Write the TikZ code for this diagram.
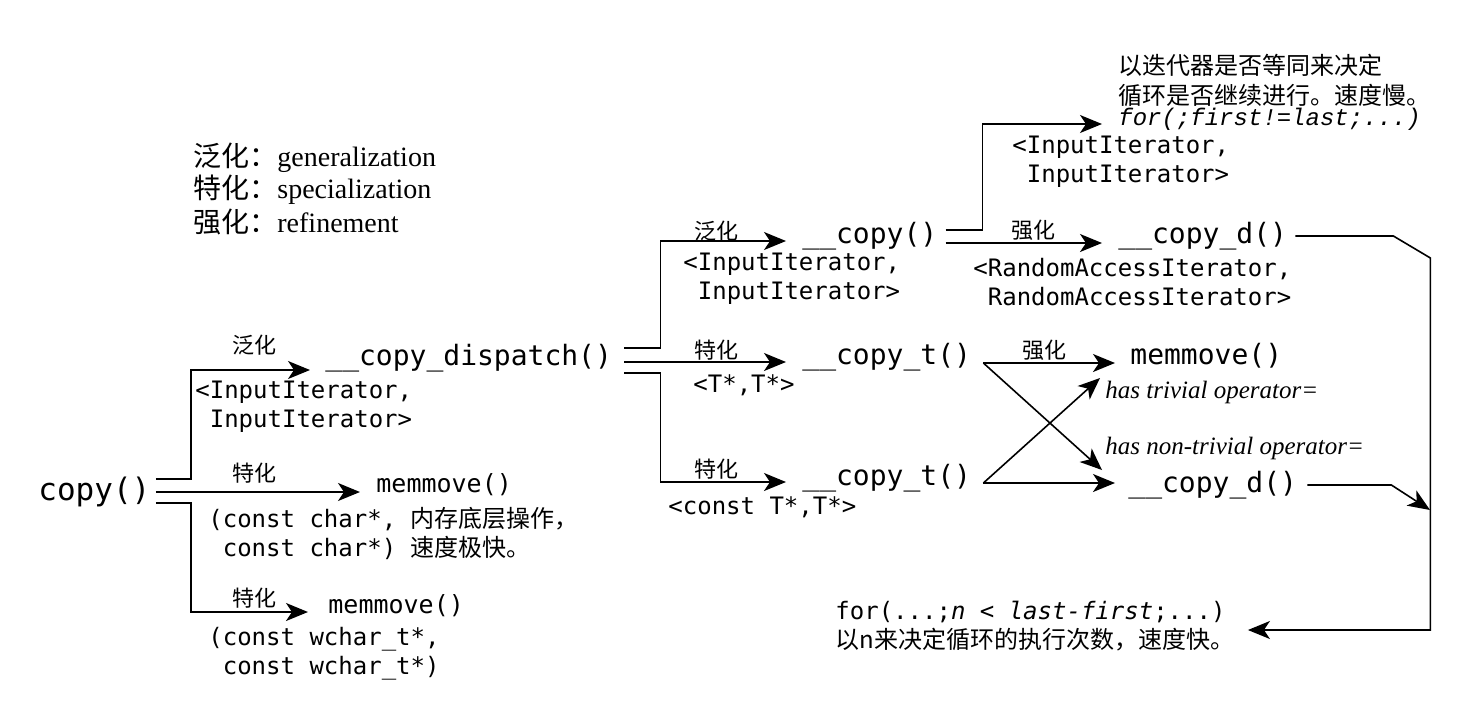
\documentclass[tikz,border=0pt]{standalone}
\usepackage{fontspec}
\setmainfont{Liberation Serif}
\setmonofont{DejaVu Sans Mono}
\newfontfamily\cjk{Noto Sans CJK SC}
\newfontfamily\lmono{Liberation Mono}
\usepackage{tikz}
\usetikzlibrary{arrows.meta, calc, positioning}

\tikzset{
    func/.style={font=\ttfamily\fontsize{14}{16}\selectfont, anchor=west, inner sep=0pt},
    parm/.style={font=\ttfamily\fontsize{12}{14.5}\selectfont, anchor=west, align=left, inner sep=0pt},
    rel/.style={font=\cjk\fontsize{11}{13}\selectfont, inner sep=0pt},
    legend/.style={font=\fontsize{14}{16}\selectfont, anchor=west, inner sep=0pt},
    cond/.style={font=\itshape\fontsize{12.5}{15}\selectfont, anchor=west, inner sep=0pt},
    arr/.style={-{Stealth[length=11pt,width=9pt,inset=3pt]}, line width=0.8pt},
}

\begin{document}
\begin{tikzpicture}[x=0.5pt, y=-0.5pt]
    \useasboundingbox (0,0) rectangle (1461,719);

    % 图例
    \node[legend] (lgen) at (193,158) {{\cjk 泛化：}generalization};
    \node[legend] (lspec) at (193,190) {{\cjk 特化：}specialization};
    \node[legend] (lref) at (193,222) {{\cjk 强化：}refinement};

    % copy() 一层
    \node[func, font=\ttfamily\fontsize{15.5}{17}\selectfont] (copy) at (38,492) {copy()};
    \node[func] (dispatch) at (325,358) {\_\_copy\_dispatch()};
    \node[func, font=\ttfamily\fontsize{12.5}{14}\selectfont] (memA) at (376,485) {memmove()};
    \node[func, font=\ttfamily\fontsize{12.5}{14}\selectfont] (memB) at (328,606) {memmove()};
    \node[rel] (g1) at (254,345) {泛化};
    \node[rel] (s1) at (254,473) {特化};
    \node[rel] (s2) at (254,598) {特化};
    \node[parm] (pii1) at (195,407) {<InputIterator,\\\hphantom{<}InputIterator>};
    \node[parm] (pchar) at (208,533) {(const char*, {\cjk 内存底层操作，}\\\hphantom{(}const char*) {\cjk 速度极快。}};
    \node[parm] (pwchar) at (208,654) {(const wchar\_t*,\\\hphantom{(}const wchar\_t*)};

    \draw[arr] ($(copy.east)+(5,-13)$) -- ++(35,0) |- ($(dispatch.west)+(-15,12)$);
    \draw[arr] ($(copy.east)+(5,0)$) -- ($(memA.west)+(-16,7)$);
    \draw[arr] ($(copy.east)+(5,11)$) -- ++(35,0) |- ($(memB.west)+(-20,6)$);

    % __copy_dispatch() 一层
    \node[func] (copyg) at (802,236) {\_\_copy()};
    \node[func] (copyt1) at (802,357) {\_\_copy\_t()};
    \node[func] (copyt2) at (802,478) {\_\_copy\_t()};
    \node[rel] (g2) at (716,231) {泛化};
    \node[rel] (s3) at (716,350) {特化};
    \node[rel] (s4) at (716,469) {特化};
    \node[parm] (pii2) at (683,279) {<InputIterator,\\\hphantom{<}InputIterator>};
    \node[parm] (ptt) at (693,385) {<T*,T*>};
    \node[parm] (pct) at (668,507) {<const T*,T*>};

    \draw[arr] ($(dispatch.east)+(12,-10)$) -- ++(36,0) |- ($(copyg.west)+(-16,5)$);
    \draw[arr] ($(dispatch.east)+(12,4)$) -- ($(copyt1.west)+(-16,5)$);
    \draw[arr] ($(dispatch.east)+(12,15)$) -- ++(36,0) |- ($(copyt2.west)+(-16,4)$);

    % __copy() 之后
    \node[font=\cjk\fontsize{12}{15}\selectfont, anchor=west, align=left, inner sep=0pt] (slow) at (1118,80) {以迭代器是否等同来决定\\循环是否继续进行。速度慢。};
    \node[anchor=west, inner sep=0pt, font=\lmono\itshape\fontsize{12}{14}\selectfont] (forA) at (1118,119) {for(;first!=last;...)};
    \node[parm] (pii3) at (1012,162) {<InputIterator,\\\hphantom{<}InputIterator>};
    \node[rel] (r1) at (1033,230) {强化};
    \node[func] (copyd1) at (1118,236) {\_\_copy\_d()};
    \node[parm] (pra) at (973,282) {<RandomAccessIterator,\\\hphantom{<}RandomAccessIterator>};

    \draw[arr] ($(copyg.east)+(8,-6)$) -- ++(37,0) |- ($(forA.west)+(-16,5)$);
    \draw[arr] ($(copyg.east)+(8,7)$) -- ($(copyd1.west)+(-16,7)$);

    % __copy_t() 之后
    \node[func] (memC) at (1130,356) {memmove()};
    \node[rel] (r2) at (1044,350) {强化};
    \node[cond] (triv) at (1105,392) {has trivial operator=};
    \node[cond] (ntriv) at (1105,448) {has non-trivial operator=};
    \node[func] (copyd2) at (1128,485) {\_\_copy\_d()};

    \draw[arr] ($(copyt1.east)+(12,6)$) -- ($(memC.west)+(-15,7)$);
    \draw[arr] ($(copyt1.east)+(12,6)$) -- ($(copyd2.west)+(-26,-15)$);
    \draw[arr] ($(copyt2.east)+(12,5)$) -- ($(copyd2.west)+(-13,-2)$);
    \draw[arr] ($(copyt2.east)+(12,5)$) -- ($(memC.west)+(-30,22)$);

    % 汇合
    \node[parm] (forB) at (835,612) {for(...;{\itshape n < last-first};...)};
    \node[font=\cjk\fontsize{12}{14}\selectfont, anchor=west, inner sep=0pt] (fast) at (835,640) {以n来决定循环的执行次数，速度快。};
    \coordinate (railin) at (1430,510);

    \draw[arr] ($(copyd1.east)+(8,0)$) -- ++(98,0) -- ++(37,22) |- ($(forB.east)+(22,18)$);
    \draw[arr] ($(copyd2.east)+(10,0)$) -- ++(84,0) -- (railin);
\end{tikzpicture}
\end{document}
